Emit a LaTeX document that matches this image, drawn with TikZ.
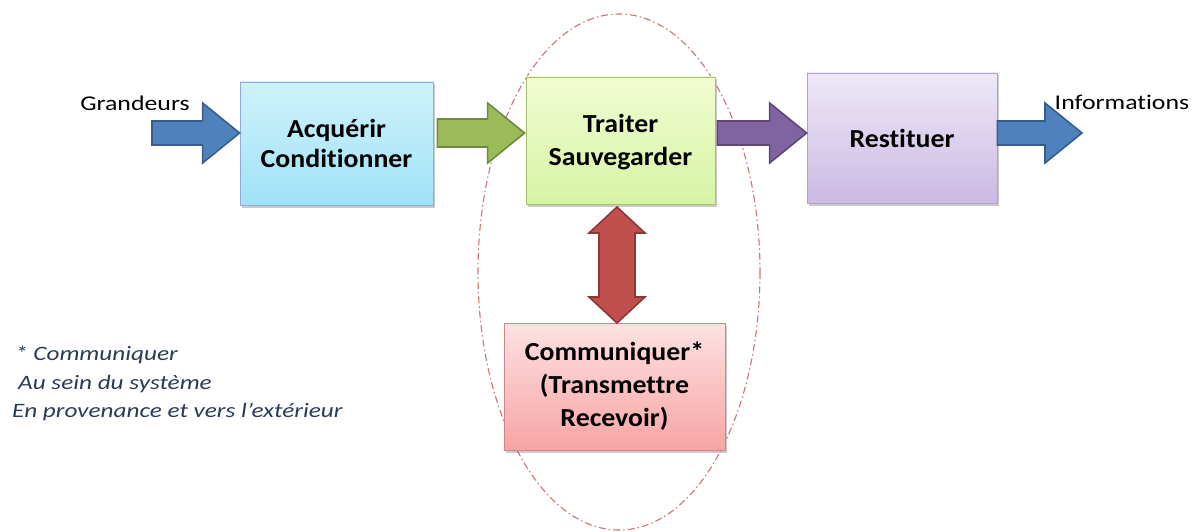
\documentclass[tikz,border=0pt]{standalone}
\usepackage{fontspec}
\setmainfont{Carlito}[Ligatures=NoCommon]
\newfontfamily\regfont{Carlito}[FakeStretch=1.23, Ligatures=NoCommon]
\newfontfamily\boxfont{Carlito}[FakeStretch=1.07, Ligatures=NoCommon]
\usetikzlibrary{calc,shadows}
\definecolor{bluef}{HTML}{4F81BD}\definecolor{blued}{HTML}{385D8A}
\definecolor{greenf}{HTML}{9BBB59}\definecolor{greend}{HTML}{71893F}
\definecolor{purpf}{HTML}{8064A2}\definecolor{purpd}{HTML}{5C4776}
\definecolor{redf}{HTML}{C0504D}\definecolor{redd}{HTML}{8C3836}
\definecolor{notec}{HTML}{2B3A55}
% horizontal block arrow: #1 start, #2 end, #3 fill, #4 draw, #5 shaft half width
\newcommand\harrow[5]{%
  \draw[#4, fill=#3, line width=1.6pt, line join=miter]
    let \p1=(#1), \p2=(#2) in
    (\x1,\y1+#5) -- (\x2-37pt,\y1+#5) -- (\x2-37pt,\y1+30pt) -- (\x2,\y1)
    -- (\x2-37pt,\y1-30pt) -- (\x2-37pt,\y1-#5) -- (\x1,\y1-#5) -- cycle;}
\begin{document}
\begin{tikzpicture}[x=1pt,y=-1pt,
  box/.style={draw=#1, line width=0.8pt, inner sep=0pt, align=center,
    font=\boxfont\fontsize{26}{30}\selectfont\bfseries,
    drop shadow={shadow xshift=2pt, shadow yshift=-2.5pt, opacity=0.35, fill=black!60}},
  lbl/.style={font=\regfont\fontsize{21}{25}\selectfont, inner sep=0pt},
  note/.style={font=\regfont\fontsize{20.5}{24}\selectfont\itshape, text=notec, inner sep=0pt, anchor=base west}]
\useasboundingbox (0,0) rectangle (1193,532);
% ellipse
\draw[color=redf!80, line width=1.1pt, dash pattern=on 7pt off 3pt on 1.5pt off 3pt]
  (619,272) ellipse [x radius=141, y radius=258];
% boxes
\node[box=cyan!45!blue!45, top color={rgb,255:red,206;green,242;blue,251}, bottom color={rgb,255:red,160;green,226;blue,246},
  minimum width=193pt, minimum height=123pt] (acq) at (336.5,143.5) {Acquérir\\Conditionner};
\node[box=greenf!90, top color={rgb,255:red,242;green,252;blue,210}, bottom color={rgb,255:red,214;green,244;blue,164},
  minimum width=189pt, minimum height=127pt] (trait) at (620.5,140.5) {\strut Traiter\\[3pt]Sauvegarder};
\node[box=purpf!60, top color={rgb,255:red,238;green,232;blue,247}, bottom color={rgb,255:red,203;green,186;blue,228},
  minimum width=190pt, minimum height=130pt] (rest) at (902,138) {Restituer};
\node[box=redf!70, top color={rgb,255:red,253;green,226;blue,226}, bottom color={rgb,255:red,247;green,164;blue,164},
  minimum width=221pt, minimum height=127pt, font=\boxfont\fontsize{26}{33}\selectfont\bfseries] (comm) at (614.5,386.5)
  {\raisebox{-3pt}{\parbox{200pt}{\centering Communiquer*\\(Transmettre\\Recevoir)}}};
% arrows
\coordinate (ay) at (0,133);
\coordinate (gin) at (152,133);
\coordinate (iout) at (1082,133);
\harrow{gin}{acq.west |- ay}{bluef}{blued}{12pt}
\harrow{$(acq.east |- ay)+(4,0)$}{$(trait.west |- ay)+(-1,0)$}{greenf}{greend}{14pt}
\harrow{$(trait.east |- ay)+(2,0)$}{rest.west |- ay}{purpf}{purpd}{12pt}
\harrow{rest.east |- ay}{iout}{bluef}{blued}{12pt}
% vertical double arrow
\coordinate (vt) at (617,207);
\coordinate (vb) at (617,323);
\draw[redd, fill=redf, line width=1.6pt, line join=miter]
  let \p1=(vt), \p2=(vb) in
  (\x1,\y1) -- (\x1+28pt,\y1-26pt) -- (\x1+18pt,\y1-26pt) -- (\x1+18pt,\y2+26pt)
  -- (\x1+28pt,\y2+26pt) -- (\x1,\y2) -- (\x1-28pt,\y2+26pt) -- (\x1-18pt,\y2+26pt)
  -- (\x1-18pt,\y1-26pt) -- (\x1-28pt,\y1-26pt) -- cycle;
% labels
\node[lbl] (gl) at (135,103) {Grandeurs};
\node[lbl] (il) at (1122,102) {Informations};
\node[note] (n1) at (15,360) {* Communiquer};
\node[note] (n2) at (18,389) {Au sein du système};
\node[note] (n3) at (12,417) {En provenance et vers l’extérieur};
\end{tikzpicture}
\end{document}
